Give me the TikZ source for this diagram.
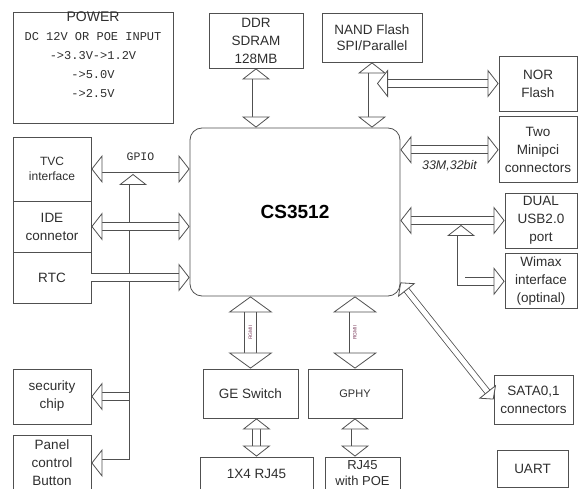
\documentclass[tikz,border=0pt]{standalone}
\usepackage{fontspec}
\setmainfont{Liberation Sans}
\setmonofont{Liberation Mono}
\usetikzlibrary{arrows.meta,positioning}

\definecolor{linec}{HTML}{505050}
\definecolor{textc}{HTML}{2E2E2E}
\definecolor{rgmiic}{HTML}{7A3A5A}

\tikzset{
  box/.style={draw=linec,line width=0.8pt,align=center,inner sep=0pt,text=textc,
    font=\fontsize{13.5}{18}\selectfont},
  bus/.style={draw=linec,line width=0.8pt,double=white,double distance=7pt,
    >={Triangle[length=11pt 0 0,width=28pt 0 0,line width=0.8pt 0 0,fill=white]}},
  widebus/.style={bus,double distance=11pt,
    >={Triangle[length=16pt 0 0,width=44pt 0 0,line width=0.8pt 0 0,fill=white]}},
  thinbus/.style={bus,double distance=5pt,
    >={Triangle[length=10pt 0 0,width=22pt 0 0,line width=0.8pt 0 0,fill=white]}}
}

\begin{document}
\begin{tikzpicture}[x=1pt,y=-1pt]
\useasboundingbox (0,0) rectangle (579,489);

% power block
\node[box,minimum width=160pt,minimum height=111pt] (power) at (93,67.5) {};
\node[text=textc,align=center,anchor=north,inner sep=0pt,font=\fontsize{14}{19}\selectfont]
  (powertext) at (93,12) {POWER\\
  \ttfamily\fontsize{12}{19}\selectfont DC 12V OR POE INPUT\\
  \ttfamily\fontsize{12}{19}\selectfont ->3.3V->1.2V\\
  \ttfamily\fontsize{12}{19}\selectfont ->5.0V\\
  \ttfamily\fontsize{12}{19}\selectfont ->2.5V};

% memories
\node[box,minimum width=94pt,minimum height=55pt] (ddr) at (256,40.5) {DDR\\SDRAM\\128MB};
\node[box,minimum width=100pt,minimum height=49pt,font=\fontsize{13.5}{16}\selectfont] (nand) at (372,37.5) {NAND Flash\\SPI/Parallel};

% soc
\node[box,rounded corners=12pt,minimum width=210pt,minimum height=168pt,
  font=\bfseries\fontsize{19}{22}\selectfont,text=black] (cpu) at (295,212) {CS3512};

% right side
\node[box,minimum width=78pt,minimum height=55pt] (nor) at (538,83.5) {NOR\\Flash};
\node[box,minimum width=78pt,minimum height=66pt,below=5pt of nor] (minipci) {Two\\Minipci\\connectors};
\node[box,minimum width=72pt,minimum height=55pt] (usb) at (541,220.5) {DUAL\\USB2.0\\port};
\node[box,minimum width=72pt,minimum height=55pt,below=5pt of usb] (wimax) {Wimax\\interface\\(optinal)};
\node[box,minimum width=79pt,minimum height=49pt] (sata) at (533.5,399.5) {SATA0,1\\connectors};
\node[box,minimum width=71pt,minimum height=37pt] (uart) at (532.5,468.5) {UART};

% left side
\node[box,minimum width=78pt,minimum height=64pt,font=\fontsize{12}{15}\selectfont] (tvc) at (52,169) {TVC\\interface};
\node[box,minimum width=78pt,minimum height=51pt,below=-0.8pt of tvc] (ide) {IDE\\connetor};
\node[box,minimum width=78pt,minimum height=51pt,below=-0.8pt of ide] (rtc) {RTC};
\node[box,minimum width=78pt,minimum height=55pt] (security) at (52,396.5) {security\\chip};
\node[box,minimum width=78pt,minimum height=56pt] (panel) at (52,463) {Panel\\control\\Button};

% ethernet
\node[box,minimum width=95pt,minimum height=49pt] (geswitch) at (250.5,393.5) {GE Switch};
\node[box,minimum width=94pt,minimum height=49pt,font=\fontsize{11}{14}\selectfont] (gphy) at (355,393.5) {GPHY};
\node[box,minimum width=113pt,minimum height=34pt] (rj45) at (256.5,474) {1X4 RJ45};
\node[box,minimum width=75pt,minimum height=32pt,font=\fontsize{13}{15.5}\selectfont] (rj45poe) at (362.5,473) {RJ45\\with POE};

% bus taps
\coordinate (nandtap) at ([xshift=5pt]nand.south |- nor.west);
\coordinate (usbtap) at (461,225);
\coordinate (gpiotap) at (133,174);

% connectors
\draw[bus,<->] (ddr.south) -- (ddr.south |- cpu.north);
\draw[bus,<->] (nand.south) -- (nand.south |- cpu.north);
\draw[bus,<->] (nandtap) -- (nor.west);
\draw[bus,<->] (cpu.east |- minipci.west) -- (minipci.west)
  node[midway,below=7pt,text=textc,font=\itshape\fontsize{12.5}{14}\selectfont] {33M,32bit};
\draw[bus,<->] (cpu.east |- usb.west) -- (usb.west);
\draw[bus,<->] (usbtap) |- (wimax.west);
\draw[thinbus,<->] ([yshift=14pt]cpu.south east) -- (sata.west);

\draw[widebus,<->] (geswitch.north |- cpu.south) -- (geswitch.north)
  node[midway,rotate=90,inner sep=0pt,text=rgmiic,font=\fontsize{5}{5}\selectfont] {RGMII};
\draw[widebus,<->] (gphy.north |- cpu.south) -- (gphy.north)
  node[midway,rotate=90,inner sep=0pt,text=rgmiic,font=\fontsize{5}{5}\selectfont] {RGMII};
\draw[bus,<->] (rj45.north |- geswitch.south) -- (rj45.north);
\draw[bus,<->] (gphy.south) -- (gphy.south |- rj45poe.north);

\draw[bus,->] (gpiotap |- security.east) -- (security.east);
\draw[bus,<->] (gpiotap) |- (panel.east);
\draw[bus,<->] (tvc.east) -- (tvc.east -| cpu.west)
  node[midway,above=5pt,text=textc,font=\ttfamily\fontsize{11.5}{12}\selectfont] {GPIO};
\draw[bus,<->] (ide.east) -- (ide.east -| cpu.west);
\draw[bus,->] (rtc.east) -- (rtc.east -| cpu.west);
\end{tikzpicture}
\end{document}
